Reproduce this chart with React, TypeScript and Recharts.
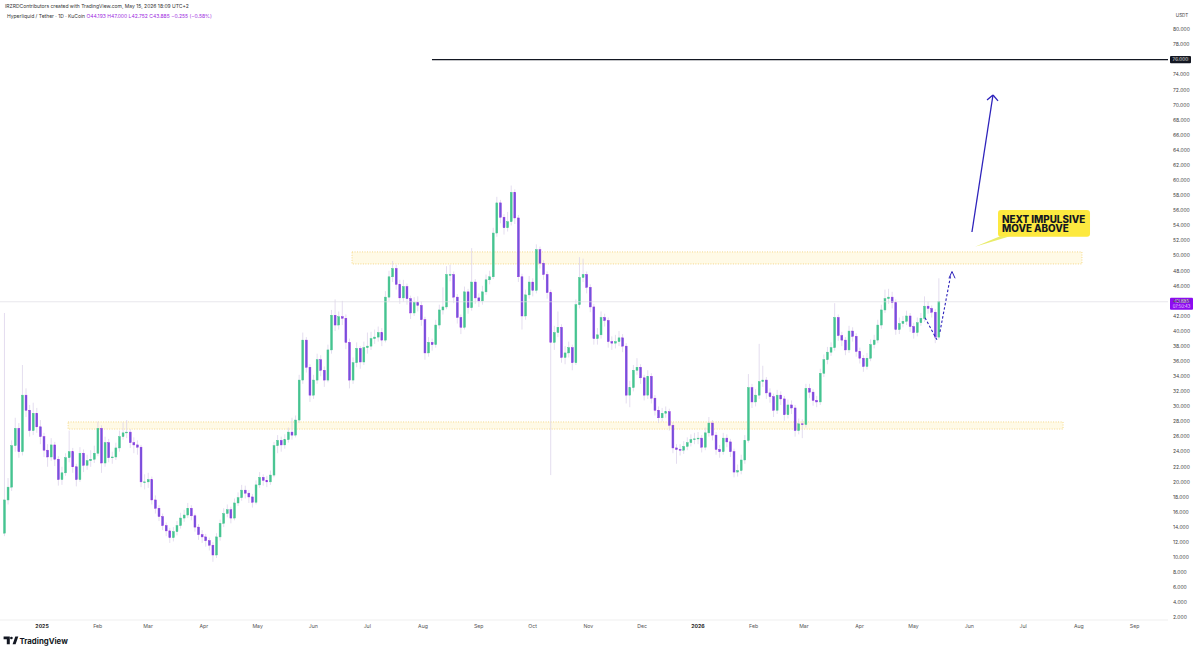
import React from "react";
import { ComposedChart, Bar, XAxis, YAxis, ReferenceLine, ReferenceArea } from "recharts";

// t = days since 1 Jan 2025, first candle starts 11 Dec 2024.
const startDay = -21;
const stepDays = 2;
const firstOpen = 13.2;

const closes = [
  17.6, 19.3, 24.8, 27.1, 24.0, 31.5, 29.5, 26.8, 29.1, 27.3,
  26.0, 24.2, 23.3, 24.9, 23.0, 20.3, 21.2, 23.2, 24.0, 22.0,
  20.3, 23.8, 22.2, 22.8, 23.0, 23.8, 27.1, 22.5, 25.2, 23.2,
  23.3, 24.5, 26.0, 26.5, 26.6, 25.2, 24.9, 24.6, 20.0, 20.0,
  20.3, 17.6, 16.5, 15.4, 14.2, 13.5, 12.6, 13.4, 14.2, 15.2,
  15.6, 16.5, 15.5, 14.0, 13.0, 12.7, 12.2, 11.6, 10.3, 12.7,
  14.5, 15.8, 16.3, 15.2, 17.2, 17.9, 18.9, 18.5, 18.0, 17.3,
  19.6, 20.6, 20.2, 20.0, 20.9, 24.8, 25.5, 24.9, 25.6, 26.6,
  26.2, 28.2, 33.5, 38.8, 35.2, 31.5, 33.5, 36.2, 34.8, 33.5,
  37.5, 42.1, 40.8, 41.9, 41.7, 38.5, 33.5, 35.8, 37.7, 35.9,
  37.8, 38.0, 39.0, 39.2, 39.8, 38.8, 44.5, 47.2, 48.3, 46.2,
  44.4, 45.9, 44.3, 42.4, 43.8, 43.4, 41.5, 37.1, 38.5, 38.2,
  40.8, 42.8, 43.2, 47.5, 47.5, 44.5, 41.8, 40.5, 45.2, 43.1,
  46.5, 44.4, 44.0, 45.2, 46.8, 47.2, 53.0, 57.0, 55.1, 53.7,
  54.5, 58.4, 55.0, 47.2, 42.0, 44.8, 46.5, 45.4, 50.8, 49.0,
  47.5, 45.1, 38.5, 39.8, 40.5, 36.5, 37.1, 37.8, 35.8, 43.5,
  47.1, 47.5, 45.8, 43.2, 39.0, 39.5, 41.8, 41.4, 38.6, 38.4,
  38.6, 39.1, 38.0, 31.5, 32.5, 34.8, 35.2, 33.8, 31.5, 34.0,
  31.1, 29.5, 28.5, 29.1, 29.3, 27.5, 24.5, 24.3, 24.2, 24.7,
  25.2, 25.6, 25.7, 25.8, 24.6, 26.5, 27.8, 26.2, 24.3, 24.0,
  25.8, 25.3, 24.0, 21.3, 21.5, 22.9, 25.5, 32.5, 30.6, 31.5,
  33.3, 33.5, 31.8, 31.3, 29.5, 31.5, 31.0, 28.9, 30.2, 29.8,
  26.8, 27.7, 27.6, 32.4, 31.9, 30.8, 30.6, 34.4, 36.2, 37.2,
  37.8, 41.8, 39.4, 38.8, 37.5, 40.0, 39.3, 37.3, 36.4, 35.3,
  36.4, 38.2, 38.8, 40.8, 42.8, 44.3, 44.5, 43.8, 40.2, 41.0,
  41.3, 42.0, 40.6, 39.8, 41.1, 41.7, 43.3, 43.0, 42.5, 39.2,
  43.885,
];

const highs = [
  42.4, 20.5, 25.5, 28.5, 27.8, 35.5, 32.4, 30.2, 30.5, 29.8,
  28.2, 26.5, 25.0, 25.8, 25.3, 23.4, 22.0, 23.8, 26.8, 24.5,
  22.4, 24.6, 24.3, 23.6, 24.2, 24.8, 28.0, 27.5, 26.0, 25.7,
  24.0, 25.2, 26.8, 27.9, 28.2, 27.0, 25.9, 25.5, 24.9, 21.0,
  21.2, 20.7, 18.2, 16.9, 15.8, 14.6, 13.9, 14.0, 14.8, 15.9,
  16.3, 17.2, 16.9, 15.8, 14.4, 13.6, 13.1, 12.6, 12.0, 13.2,
  15.0, 16.5, 17.0, 16.7, 17.8, 18.6, 19.6, 19.5, 18.9, 18.4,
  20.2, 21.3, 21.0, 20.8, 21.5, 25.3, 26.2, 26.0, 26.3, 27.2,
  28.5, 28.8, 34.2, 39.8, 39.2, 35.6, 34.2, 37.0, 36.8, 35.3,
  38.2, 42.8, 44.2, 42.6, 44.0, 42.2, 39.0, 36.5, 38.5, 38.0,
  38.6, 39.8, 39.9, 40.2, 40.6, 40.4, 45.3, 48.0, 49.3, 48.8,
  46.8, 46.8, 46.3, 44.7, 44.5, 44.6, 43.9, 41.9, 39.2, 39.0,
  41.5, 43.5, 45.8, 48.6, 48.8, 47.9, 44.9, 42.2, 45.9, 45.6,
  51.0, 46.9, 45.0, 46.0, 47.5, 48.0, 53.7, 57.8, 57.4, 55.5,
  55.8, 59.3, 58.8, 55.4, 47.6, 45.5, 47.3, 47.0, 51.5, 51.2,
  49.4, 47.9, 45.5, 40.7, 42.6, 40.9, 38.0, 38.6, 38.2, 44.2,
  49.8, 49.6, 47.9, 46.2, 43.6, 40.4, 42.6, 42.3, 41.8, 39.3,
  39.5, 40.0, 39.6, 38.4, 33.4, 35.5, 36.4, 35.6, 34.2, 34.8,
  34.4, 31.5, 30.0, 29.8, 30.0, 29.7, 27.9, 25.0, 25.0, 25.4,
  25.9, 26.3, 26.5, 26.6, 26.2, 27.2, 28.6, 28.2, 26.6, 24.9,
  26.5, 26.3, 25.7, 24.4, 22.3, 23.6, 26.2, 34.3, 33.0, 32.3,
  38.3, 35.4, 33.9, 32.4, 31.7, 32.2, 32.0, 31.4, 30.9, 30.8,
  30.2, 28.4, 28.3, 33.0, 33.0, 32.3, 31.4, 35.0, 36.9, 37.9,
  38.5, 43.7, 42.2, 39.9, 39.2, 40.7, 40.5, 39.7, 37.8, 36.8,
  37.1, 38.9, 39.5, 41.5, 43.5, 45.5, 45.6, 45.2, 44.2, 41.8,
  42.0, 42.7, 42.4, 41.1, 41.8, 42.4, 44.6, 43.9, 43.4, 42.9,
  47.0,
];

const lows = [
  12.8, 17.0, 18.8, 24.0, 23.2, 23.5, 28.6, 26.0, 26.2, 26.5,
  25.0, 23.3, 22.0, 22.8, 22.1, 19.5, 19.6, 20.8, 22.6, 21.2,
  19.4, 20.0, 21.3, 21.6, 22.0, 22.5, 23.4, 21.2, 22.0, 22.6,
  22.4, 22.9, 24.0, 25.6, 25.8, 24.5, 23.8, 23.6, 19.3, 19.0,
  19.2, 17.0, 15.8, 14.8, 13.6, 12.8, 11.9, 12.1, 12.9, 13.8,
  14.7, 15.2, 14.9, 13.4, 12.3, 11.9, 11.4, 10.9, 9.4, 9.9,
  12.2, 14.0, 15.3, 14.5, 14.9, 16.8, 17.5, 17.8, 17.2, 16.6,
  17.0, 19.2, 19.5, 19.3, 19.6, 20.6, 23.8, 24.0, 24.4, 25.2,
  25.6, 25.9, 27.8, 33.0, 34.5, 30.6, 31.0, 33.0, 34.0, 32.6,
  33.2, 37.0, 40.0, 40.2, 40.8, 37.6, 32.4, 33.0, 35.2, 35.0,
  35.5, 37.0, 37.5, 38.3, 38.6, 38.0, 38.5, 44.0, 46.5, 45.5,
  43.6, 43.9, 43.5, 41.6, 42.0, 42.6, 40.7, 36.2, 36.6, 37.4,
  37.8, 40.3, 42.2, 42.9, 46.6, 43.7, 41.0, 39.6, 40.2, 42.3,
  42.7, 43.6, 43.2, 43.5, 44.8, 46.2, 46.9, 52.5, 54.3, 52.8,
  53.2, 54.0, 54.2, 46.5, 40.2, 41.5, 44.3, 44.6, 45.0, 48.3,
  46.8, 44.3, 20.9, 37.5, 39.2, 35.8, 35.6, 36.5, 34.8, 35.5,
  43.0, 46.5, 45.0, 42.5, 38.2, 38.2, 39.0, 40.6, 37.8, 37.5,
  37.7, 38.0, 37.2, 30.4, 29.9, 32.0, 34.2, 33.0, 30.8, 31.0,
  30.4, 28.8, 27.8, 28.0, 28.5, 26.8, 23.8, 22.4, 23.5, 23.7,
  24.2, 24.7, 25.0, 25.0, 23.9, 24.2, 26.0, 25.5, 23.6, 23.2,
  23.6, 24.6, 23.3, 20.6, 20.7, 21.0, 22.4, 25.2, 29.8, 30.0,
  31.0, 32.6, 31.0, 30.5, 28.6, 29.0, 30.2, 28.1, 28.4, 29.0,
  26.0, 26.3, 25.8, 27.2, 31.1, 30.1, 29.9, 30.2, 33.9, 35.6,
  36.7, 37.4, 38.7, 38.0, 36.8, 37.1, 38.6, 36.6, 35.7, 34.6,
  34.9, 36.0, 37.7, 38.4, 40.3, 42.4, 43.6, 43.0, 39.5, 39.6,
  40.5, 40.8, 39.9, 39.0, 39.3, 40.7, 41.2, 42.3, 41.8, 38.4,
  38.9,
];

const monthTicks = [0, 31, 59, 90, 120, 151, 181, 212, 243, 273, 304, 334, 365, 396, 424, 455, 485, 516, 546, 577, 608];
const monthLabels = ["2025", "Feb", "Mar", "Apr", "May", "Jun", "Jul", "Aug", "Sep", "Oct", "Nov", "Dec", "2026", "Feb", "Mar", "Apr", "May", "Jun", "Jul", "Aug", "Sep"];

const priceTicks = [
  2, 4, 6, 8, 10, 12, 14, 16, 18, 20, 22, 24, 26, 28, 30, 32, 34, 36, 38, 40,
  42, 44, 46, 48, 50, 52, 54, 56, 58, 60, 62, 64, 66, 68, 70, 72, 74, 76, 78, 80,
];

const lastPrice = 43.885;
const targetPrice = 76;

const candles = closes.map((close, i) => {
  const open = i === 0 ? firstOpen : closes[i - 1];
  return { t: startDay + i * stepDays, open, close, high: highs[i], low: lows[i], range: [lows[i], highs[i]] };
});

const FONT = "Inter, 'Noto Sans', sans-serif";
const UP = "#45c490";
const DOWN_BODY = "#6d58da";
const DOWN_EDGE = "#9a2be2";
const WICK = "#d8cfe8";
const ARROW = "#2d22bb";
const ZONE_FILL = "#fff9e0";
const ZONE_EDGE = "#f0c95a";

const Candle = (props: any) => {
  const { x, y, width, height, payload } = props;
  if (!payload || height == null) return null;
  const { open, close, high, low } = payload;
  const span = high - low || 1;
  const py = (v: number) => y + ((high - v) / span) * height;
  const up = close >= open;
  const cx = x + width / 2;
  const top = py(Math.max(open, close));
  const bot = py(Math.min(open, close));
  return (
    <g>
      <line x1={cx} x2={cx} y1={y} y2={y + height} stroke={WICK} strokeWidth={0.7} />
      <rect
        x={x}
        y={top}
        width={width}
        height={Math.max(bot - top, 0.8)}
        fill={up ? UP : DOWN_BODY}
        stroke={up ? UP : DOWN_EDGE}
        strokeWidth={0.45}
      />
    </g>
  );
};

const MonthTick = (props: any) => {
  const { x, y, payload } = props;
  const label = monthLabels[monthTicks.indexOf(payload.value)] ?? "";
  const year = label.length === 4;
  return (
    <text x={x} y={y} dy={4.5} textAnchor="middle" fontSize={5.2} fontFamily={FONT} fontWeight={year ? 700 : 400} fill={year ? "#222" : "#555"}>
      {label}
    </text>
  );
};

const TargetLabel = (props: any) => {
  const { x, y, width } = props.viewBox;
  const rx = x + width + 2;
  return (
    <g>
      <rect x={rx} y={y - 3.7} width={21} height={7.4} rx={1} fill="#131722" />
      <text x={rx + 10.5} y={y + 1.8} fontSize={4.8} fontFamily={FONT} fill="#fff" textAnchor="middle">76.000</text>
    </g>
  );
};

const LastLabel = (props: any) => {
  const { x, y, width } = props.viewBox;
  const rx = x + width + 2;
  return (
    <g>
      <rect x={rx} y={y - 4} width={23} height={12} rx={1} fill="#8c0cf0" />
      <text x={rx + 11.5} y={y + 1.4} fontSize={4.6} fontFamily={FONT} fill="#fff" textAnchor="middle">43.885</text>
      <text x={rx + 11.5} y={y + 6.2} fontSize={4.2} fontFamily={FONT} fill="#ecd6ff" textAnchor="middle">07:50:43</text>
    </g>
  );
};

const Callout = (props: any) => {
  const { x, y, width, height } = props;
  const b = y + height;
  return (
    <g>
      <path d={`M${x + 2} ${b - 0.5} L${x - 23} ${b + 10} L${x + 12} ${b - 0.5} Z`} fill="#e9ec6a" />
      <rect x={x} y={y} width={width} height={height} rx={3} fill="#fde93f" />
      <text x={x + 4} y={y + 12.6} fontSize={9.8} fontWeight={800} fontFamily={FONT} fill="#131722">NEXT IMPULSIVE</text>
      <text x={x + 4} y={y + 22.3} fontSize={9.8} fontWeight={800} fontFamily={FONT} fill="#131722">MOVE ABOVE</text>
    </g>
  );
};

export default function App() {
  return (
    <div style={{ position: "fixed", left: 0, top: 0, width: 1200, height: 652, background: "#fff", overflow: "hidden" }}>
      <ComposedChart width={1200} height={652} data={candles} margin={{ top: 22, right: 0, bottom: 0, left: 0 }}>
        <XAxis
          dataKey="t"
          type="number"
          domain={[-23.4, 626.6]}
          allowDataOverflow
          ticks={monthTicks}
          interval={0}
          height={32}
          tickSize={0}
          tickMargin={3}
          axisLine={{ stroke: "#efefef" }}
          tick={<MonthTick />}
        />
        <YAxis
          orientation="right"
          width={32}
          domain={[1.68, 80.99]}
          allowDataOverflow
          ticks={priceTicks}
          interval={0}
          tickSize={0}
          tickMargin={5}
          axisLine={false}
          tickFormatter={(v: number) => v.toFixed(3)}
          tick={{ fontSize: 5, fill: "#444", fontFamily: FONT }}
        />

        <ReferenceArea x1={14.5} x2={568.2} y1={27.0} y2={27.95} fill={ZONE_FILL} fillOpacity={0.8} stroke={ZONE_EDGE} strokeWidth={0.7} strokeDasharray="1 1.5" />
        <ReferenceArea x1={172.5} x2={578.7} y1={48.9} y2={50.5} fill={ZONE_FILL} fillOpacity={0.8} stroke={ZONE_EDGE} strokeWidth={0.7} strokeDasharray="1 1.5" />

        <ReferenceLine y={lastPrice} stroke="#dedbe4" strokeWidth={0.7} label={<LastLabel />} />
        <ReferenceLine segment={[{ x: 217, y: targetPrice }, { x: 626.6, y: targetPrice }]} stroke="#131722" strokeWidth={1.4} />
        <ReferenceLine y={targetPrice} stroke="none" strokeOpacity={0} label={<TargetLabel />} />

        <Bar dataKey="range" barSize={1.9} shape={<Candle />} isAnimationActive={false} />

        {/* projected path */}
        <ReferenceLine segment={[{ x: 491.4, y: 41.75 }, { x: 498.1, y: 38.8 }]} stroke={ARROW} strokeWidth={1.1} strokeDasharray="2.5 2" />
        <ReferenceLine segment={[{ x: 499.7, y: 39.9 }, { x: 505.7, y: 47.45 }]} stroke={ARROW} strokeWidth={1.1} strokeDasharray="2.5 2" />
        <ReferenceLine segment={[{ x: 504.7, y: 47.0 }, { x: 506.4, y: 47.9 }]} stroke={ARROW} strokeWidth={1} />
        <ReferenceLine segment={[{ x: 506.4, y: 47.9 }, { x: 508.1, y: 47.0 }]} stroke={ARROW} strokeWidth={1} />

        {/* target arrow */}
        <ReferenceLine segment={[{ x: 517.5, y: 53.14 }, { x: 529.2, y: 71.31 }]} stroke={ARROW} strokeWidth={1.3} />
        <ReferenceLine segment={[{ x: 525.9, y: 70.65 }, { x: 529.2, y: 71.31 }]} stroke={ARROW} strokeWidth={1.3} />
        <ReferenceLine segment={[{ x: 532.0, y: 70.52 }, { x: 529.2, y: 71.31 }]} stroke={ARROW} strokeWidth={1.3} />

        <ReferenceArea x1={532.0} x2={583.2} y1={52.52} y2={56.06} shape={<Callout />} />
      </ComposedChart>

      <svg style={{ position: "absolute", left: 0, top: 0 }} width={1200} height={652} pointerEvents="none">
        <text x={5} y={8.2} fontSize={5} fontFamily={FONT} fill="#333">
          IRZRDContributors created with TradingView.com, May 15, 2026 18:09 UTC+2
        </text>
        <text x={7} y={18} fontSize={5} fontFamily={FONT} fill="#333">
          Hyperliquid / Tether · 1D · KuCoin{"  "}
          <tspan fill="#9c27e0">O44.193 H47.000 L42.752 C43.885 −0.255 (−0.58%)</tspan>
        </text>
        <text x={1182} y={17} fontSize={4.6} fontFamily={FONT} fill="#444" textAnchor="middle">USDT</text>
        <g fill="#131722">
          <path d="M3.6 636.6 h6.2 v7.6 h-3 v-4.9 h-3.2 z" />
          <circle cx={11.4} cy={638} r={1.35} />
          <path d="M12.6 644.2 L15.3 636.6 h3 L15.6 644.2 z" />
          <text x={19.5} y={643.6} fontSize={7.8} fontWeight={700} fontFamily={FONT}>TradingView</text>
        </g>
      </svg>
    </div>
  );
}
